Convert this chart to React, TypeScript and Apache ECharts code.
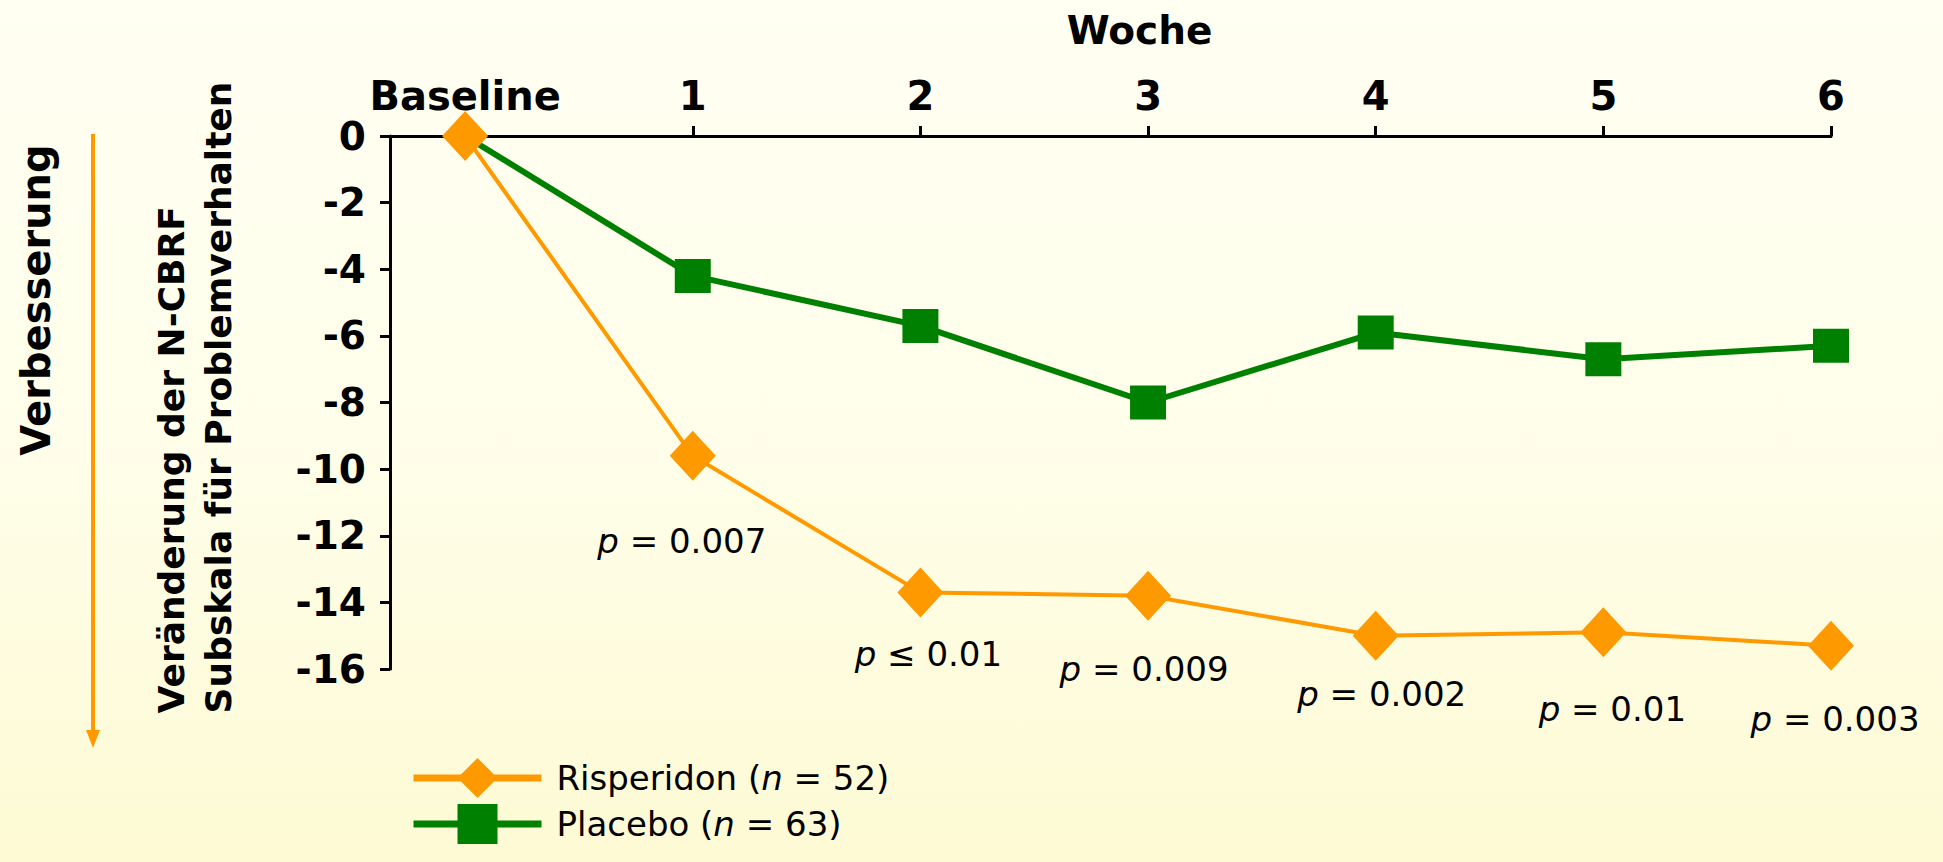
import React, { useEffect, useRef } from "react";
import * as echarts from "echarts";

// ---- data ----
const weeks = [0, 1, 2, 3, 4, 5, 6];
const weekLabels = ["Baseline", "1", "2", "3", "4", "5", "6"];
const risperidon = [0, -9.6, -13.7, -13.8, -15.0, -14.9, -15.3];
const placebo = [0, -4.2, -5.7, -8.0, -5.9, -6.7, -6.3];
const pRelations = ["", "=", "≤", "=", "=", "=", "="];
const pValues = ["", "0.007", "0.01", "0.009", "0.002", "0.01", "0.003"];
const seriesNames = ["Risperidon", "Placebo"];
const seriesN = [52, 63];
const yTitleLines = ["Veränderung der N-CBRF", "Subskala für Problemverhalten"];

// ---- layout (not data) ----
const labelOffsets = [
  [0, 0],
  [-11, 85],
  [8, 62],
  [-4, 73],
  [6, 58],
  [9, 77],
  [4, 73],
];

const ORANGE = "#FF9900";
const GREEN = "#008000";
const FONT = "DejaVu Sans";

export default function App() {
  const ref = useRef<HTMLDivElement>(null);
  useEffect(() => {
    document.body.style.margin = "0";
    const chart = echarts.init(ref.current!, null, { renderer: "svg" });
    const option: any = {
      animation: false,
      backgroundColor: "transparent",
      grid: {
        left: 390,
        right: 112,
        top: 136,
        bottom: 193,
        containLabel: false,
        outerBoundsMode: "none",
      },
      xAxis: {
        type: "value",
        position: "top",
        min: -0.33,
        max: 6,
        name: "Woche",
        nameLocation: "middle",
        nameGap: 86,
        nameTextStyle: {
          fontFamily: FONT,
          fontWeight: "bold",
          fontSize: 39,
          color: "#000",
          padding: [0, 0, 0, 58],
        },
        axisLine: { show: true, onZero: false, lineStyle: { color: "#000", width: 3 } },
        axisTick: { show: true, customValues: weeks, length: 10, lineStyle: { color: "#000", width: 3 } },
        axisLabel: {
          customValues: weeks,
          margin: 20,
          fontFamily: FONT,
          fontWeight: "bold",
          fontSize: 40,
          color: "#000",
          formatter: (v: number) => weekLabels[weeks.indexOf(v)] ?? "",
        },
        splitLine: { show: false },
      },
      yAxis: {
        type: "value",
        min: -16,
        max: 0,
        interval: 2,
        name: yTitleLines.map((l) => `{l|${l}}`).join("\n"),
        nameLocation: "middle",
        nameRotate: 90,
        nameGap: 148,
        nameTextStyle: {
          fontFamily: FONT,
          fontWeight: "bold",
          fontSize: 36,
          color: "#000",
          lineHeight: 47,
          padding: [0, 0, 0, 10],
          rich: {
            l: { fontFamily: FONT, fontWeight: "bold", fontSize: 36, color: "#000", lineHeight: 47, align: "left" },
          },
        },
        axisLine: { show: true, onZero: false, lineStyle: { color: "#000", width: 3 } },
        axisTick: { show: true, length: 10, lineStyle: { color: "#000", width: 3 } },
        axisLabel: { margin: 24, fontFamily: FONT, fontWeight: "bold", fontSize: 39, color: "#000" },
        splitLine: { show: false },
      },
      legend: {
        orient: "vertical",
        left: 405,
        top: 753,
        itemWidth: 128,
        itemHeight: 50,
        itemGap: 6,
        data: seriesNames,
        lineStyle: { width: 7 },
        formatter: (name: string) => {
          const i = seriesNames.indexOf(name);
          return `${name} ({i|n} = ${seriesN[i]})`;
        },
        textStyle: {
          fontFamily: FONT,
          fontSize: 34,
          color: "#000",
          padding: [0, 0, 0, 10],
          rich: { i: { fontFamily: FONT, fontSize: 34, fontStyle: "italic", color: "#000" } },
        },
      },
      graphic: [
        {
          type: "text",
          x: 36,
          y: 300,
          rotation: Math.PI / 2,
          style: {
            text: "Verbesserung",
            fontFamily: FONT,
            fontWeight: "bold",
            fontSize: 40,
            fill: "#000",
            textAlign: "center",
            textVerticalAlign: "middle",
          },
        },
        {
          type: "line",
          shape: { x1: 93, y1: 134, x2: 93, y2: 732 },
          style: { stroke: ORANGE, lineWidth: 4 },
        },
        {
          type: "polygon",
          shape: { points: [[86, 730], [100, 730], [93, 748]] },
          style: { fill: ORANGE },
        },
      ],
      series: [
        {
          name: "Placebo",
          type: "line",
          z: 2,
          symbol: "rect",
          symbolSize: [36, 34],
          itemStyle: { color: GREEN },
          lineStyle: { color: GREEN, width: 6 },
          data: placebo.map((v, i) =>
            i === 0 ? { value: [weeks[i], v], symbolSize: 0 } : { value: [weeks[i], v] }
          ),
        },
        {
          name: "Risperidon",
          type: "line",
          z: 3,
          symbol: "diamond",
          symbolSize: [46, 50],
          itemStyle: { color: ORANGE },
          lineStyle: { color: ORANGE, width: 4 },
          data: risperidon.map((v, i) => ({
            value: [weeks[i], v],
            label:
              i === 0
                ? { show: false }
                : {
                    show: true,
                    position: "inside",
                    offset: labelOffsets[i],
                    formatter: `{i|p} ${pRelations[i]} ${pValues[i]}`,
                    fontFamily: FONT,
                    fontSize: 34,
                    color: "#000",
                    rich: { i: { fontFamily: FONT, fontSize: 34, fontStyle: "italic", color: "#000" } },
                  },
          })),
        },
      ],
    };
    chart.setOption(option);
    return () => chart.dispose();
  }, []);
  return (
    <div
      ref={ref}
      style={{
        width: 1943,
        height: 862,
        background: "linear-gradient(to bottom, #FFFFF2 0%, #FFFEEA 50%, #FDFAD4 100%)",
      }}
    />
  );
}
